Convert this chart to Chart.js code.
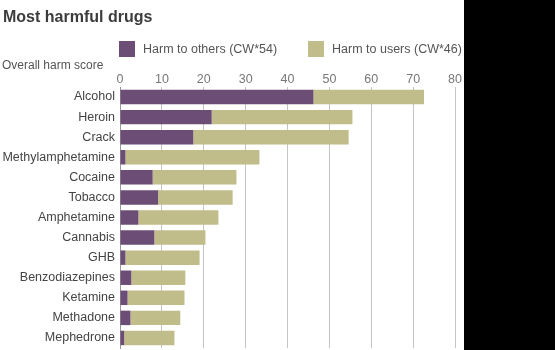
<!DOCTYPE html>
<html>
<head>
    <title>Most harmful drugs</title>
    <script src="https://cdn.jsdelivr.net/npm/chart.js"></script>
    <style>
        body { margin: 0; background: #000; }
        #wrap { position: relative; width: 464px; height: 350px; background: #fff; font-family: "Liberation Sans", Arial, sans-serif; }
        #title { position: absolute; left: 3px; top: 9px; font-size: 16px; line-height: 16px; font-weight: bold; color: #3c3c3c; }
        #sub { position: absolute; left: 2px; top: 58px; font-size: 12px; line-height: 14px; color: #555; }
        .key { position: absolute; top: 41px; font-size: 12.5px; line-height: 16px; color: #555; white-space: nowrap; }
        .key span { display: inline-block; width: 16px; height: 16px; vertical-align: top; margin-right: 8px; }
        canvas { position: absolute; left: 0; top: 0; }
    </style>
</head>
<body>
<div id="wrap">
    <canvas id="chart" width="464" height="350"></canvas>
    <div id="title">Most harmful drugs</div>
    <div id="sub">Overall harm score</div>
    <div class="key" style="left:119px"><span style="background:#6c4d76"></span>Harm to others (CW*54)</div>
    <div class="key" style="left:308px"><span style="background:#c0bd8a"></span>Harm to users (CW*46)</div>
</div>

<script>
    // values
    const drugs = ['Alcohol', 'Heroin', 'Crack', 'Methylamphetamine', 'Cocaine', 'Tobacco',
        'Amphetamine', 'Cannabis', 'GHB', 'Benzodiazepines', 'Ketamine', 'Methadone', 'Mephedrone'];
    const harmToOthers = [46.2, 21.9, 17.5, 1.3, 7.8, 9.1, 4.4, 8.2, 1.3, 2.7, 1.8, 2.5, 1.0];
    const harmToUsers = [26.4, 33.6, 37.1, 32.0, 20.0, 17.8, 19.1, 12.2, 17.7, 12.9, 13.6, 11.9, 12.0];
    const xMin = 0, xMax = 80, xStep = 10;

    const font = "'Liberation Sans', Arial, sans-serif";

    new Chart(document.getElementById('chart').getContext('2d'), {
        type: 'bar',
        data: {
            labels: drugs,
            datasets: [
                { label: 'Harm to others (CW*54)', data: harmToOthers, backgroundColor: '#6c4d76' },
                { label: 'Harm to users (CW*46)', data: harmToUsers, backgroundColor: '#c0bd8a' }
            ]
        },
        options: {
            indexAxis: 'y',
            responsive: false,
            animation: false,
            datasets: { bar: { barPercentage: 0.72, categoryPercentage: 1 } },
            layout: { padding: { top: 72, left: 2, right: 9, bottom: 2 } },
            plugins: { legend: { display: false }, tooltip: { enabled: false } },
            scales: {
                x: {
                    position: 'top',
                    stacked: true,
                    min: xMin,
                    max: xMax,
                    ticks: { stepSize: xStep, color: '#777', padding: 0, font: { size: 12.5, family: font } },
                    grid: { color: ctx => ctx.index === 0 ? '#999' : '#c4c4c4', drawTicks: false },
                    border: { display: false }
                },
                y: {
                    stacked: true,
                    grid: { display: false, drawTicks: false },
                    border: { color: '#999' },
                    ticks: { color: '#444', padding: 5, font: { size: 12.5, family: font } },
                    // fixed label column, no extra room above/below
                    afterFit: s => { s.width = 118; s.paddingTop = 0; s.paddingBottom = 0; }
                }
            }
        }
    });
</script>
</body>
</html>
